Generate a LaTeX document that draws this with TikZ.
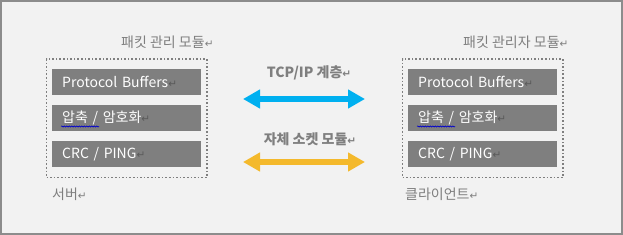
\documentclass[tikz,border=0pt]{standalone}
\usepackage{fontspec}
\setmainfont{Noto Sans CJK KR}
\newfontfamily\symf{DejaVu Sans}
\usetikzlibrary{arrows.meta,fit,decorations.pathmorphing}
\definecolor{bgc}{HTML}{F2F2F2}
\definecolor{framec}{HTML}{8C8C8C}
\definecolor{boxc}{HTML}{7F7F7F}
\definecolor{txtc}{HTML}{7F7F7F}
\definecolor{markc}{HTML}{5A5A5A}
\definecolor{bluec}{HTML}{00B0F0}
\definecolor{yellowc}{HTML}{F4B92C}
\newcommand{\parmark}[1][txtc]{{\symf\color{#1}\fontsize{10.5}{10.5}\selectfont ↵}}
\begin{document}
\begin{tikzpicture}[x=1pt,y=-1pt,
  modbox/.style={fill=boxc, anchor=north west, minimum width=149pt, minimum height=26pt,
    text width=129pt, inner xsep=10pt, inner ysep=0pt, align=left, text=white,
    font=\fontsize{14}{15}\selectfont},
  dotbox/.style={draw=boxc, line width=1.6pt, dash pattern=on 1.6pt off 2pt, inner xsep=5.5pt, inner ysep=10pt},
  title/.style={anchor=west, text=txtc, inner sep=0pt, font=\fontsize{14}{15}\selectfont},
  alabel/.style={anchor=center, text=txtc, inner sep=0pt, font=\fontsize{14}{15}\selectfont\bfseries},
  fat/.style={line width=6pt, {Triangle[length=17pt,width=18pt]}-{Triangle[length=17pt,width=18pt]}}
]
\fill[bgc] (0,0) rectangle (623,235);
\draw[framec, line width=2pt] (1,1) rectangle (622,234);

% left
\node[modbox] (l1) at (52,69) {Protocol Buffers\parmark[markc]};
\node[modbox] (l2) at (52,105) {압축 / 암호화\parmark[markc]};
\node[modbox] (l3) at (52,141) {CRC / PING\parmark[markc]};
\node[dotbox, fit=(l1)(l3)] (lbox) {};
\node[title] (lt) at (121,42) {패킷 관리 모듈\parmark};
\node[title] (ls) at (52,194) {서버\parmark};
\coordinate (w1) at (61,126.5);
\coordinate (w2) at (99,126.5);
\draw[blue!80!black, line width=0.6pt, decorate, decoration={snake, amplitude=0.6pt, segment length=2.5pt}] (w1) -- (w2);

% right
\node[modbox] (r1) at (408,69) {Protocol Buffers\parmark[markc]};
\node[modbox] (r2) at (408,105) {압축 / 암호화\parmark[markc]};
\node[modbox] (r3) at (408,141) {CRC / PING\parmark[markc]};
\node[dotbox, fit=(r1)(r3)] (rbox) {};
\node[title] (rt) at (463,42) {패킷 관리자 모듈\parmark};
\node[title] (rs) at (405,194) {클라이언트\parmark};
\coordinate (w3) at (417,126.5);
\coordinate (w4) at (455,126.5);
\draw[blue!80!black, line width=0.6pt, decorate, decoration={snake, amplitude=0.6pt, segment length=2.5pt}] (w3) -- (w4);

% arrows
\coordinate (a1) at (243,99);
\coordinate (a2) at (365,99);
\coordinate (b1) at (243,162);
\coordinate (b2) at (365,162);
\draw[fat, bluec] (a1) -- (a2);
\draw[fat, yellowc] (b1) -- (b2);
\node[alabel] (la) at (309,73) {TCP/IP 계층\parmark};
\node[alabel] (lb) at (310,139) {자체 소켓 모듈\parmark};
\end{tikzpicture}
\end{document}
